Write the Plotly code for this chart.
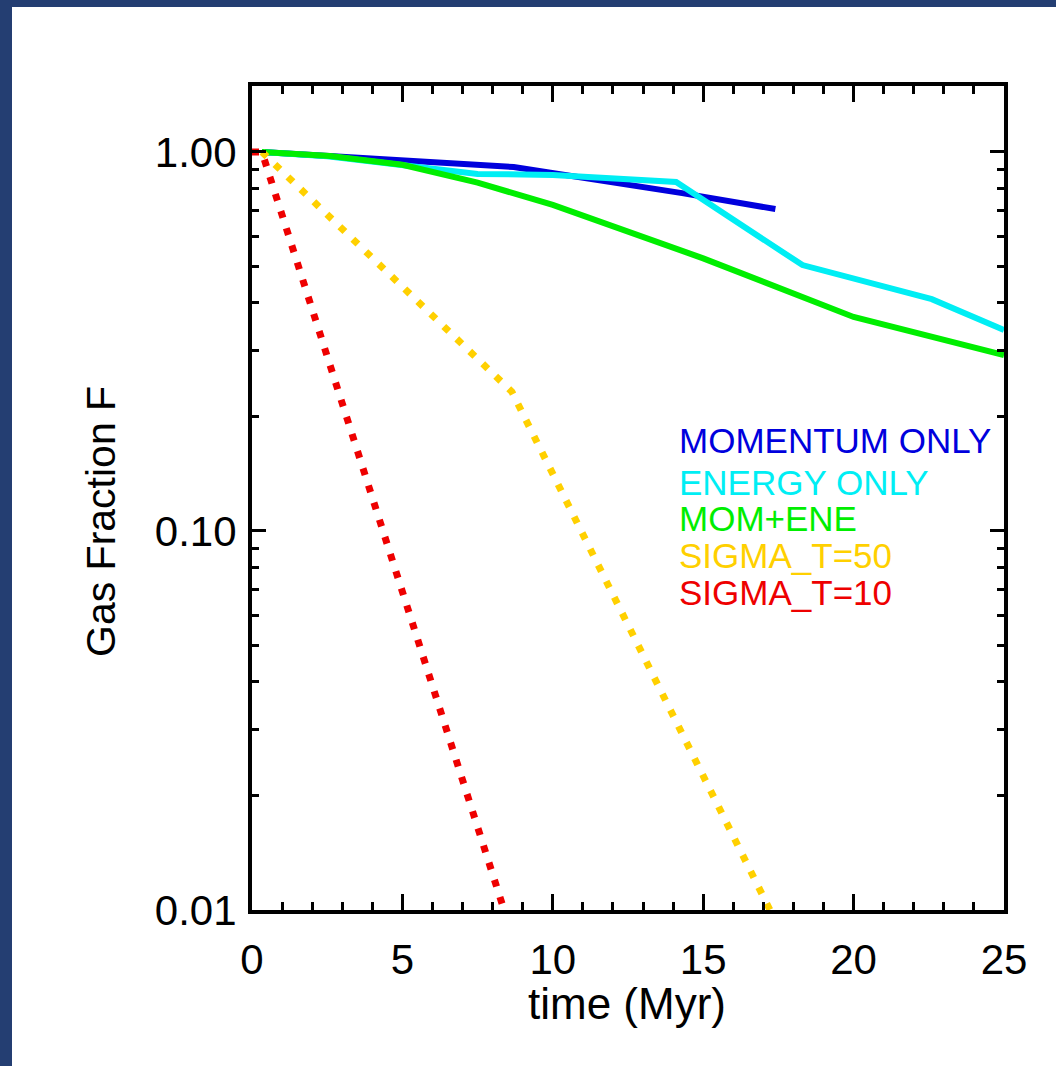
import plotly.graph_objects as go

# ---- data ----
t_mom = [0.33, 4.0, 8.7, 14.3, 17.4]
f_mom = [1.0, 0.964, 0.913, 0.779, 0.707]

t_ene = [0.33, 2.5, 7.5, 10.0, 14.1, 18.3, 22.6, 25.0]
f_ene = [1.0, 0.975, 0.875, 0.870, 0.833, 0.503, 0.409, 0.339]

t_both = [0.33, 2.6, 5.0, 7.5, 10.0, 15.0, 20.0, 25.0]
f_both = [1.0, 0.976, 0.925, 0.83, 0.725, 0.524, 0.367, 0.291]

t_s50 = [0.33, 8.64, 17.22]
f_s50 = [1.0, 0.233, 0.01]

t_s10 = [0.0, 0.33, 8.38]
f_s10 = [1.0, 1.0, 0.01]

labels = ["MOMENTUM ONLY", "ENERGY ONLY", "MOM+ENE", "SIGMA_T=50", "SIGMA_T=10"]
colors = ["#0000dd", "#00eef4", "#00ee00", "#ffd000", "#ee0000"]

x_ticks = [0, 5, 10, 15, 20, 25]
y_ticks = [0.01, 0.1, 1.0]
y_ticktext = ["0.01", "0.10", "1.00"]
y_minor = [m * d for d in (0.01, 0.1) for m in range(2, 10)]

FONT = "Liberation Sans, Arial, sans-serif"

fig = go.Figure()
series = [(t_mom, f_mom, "solid", 6), (t_ene, f_ene, "solid", 6), (t_both, f_both, "solid", 6),
          (t_s50, f_s50, "7px,11px", 7), (t_s10, f_s10, "7px,11px", 7)]
for (t, f, dash, w), name, col in zip(series, labels, colors):
    fig.add_trace(go.Scatter(x=t, y=f, mode="lines", name=name,
                             line=dict(color=col, width=w, dash=dash),
                             showlegend=False))

# text legend
leg_y = [440, 482, 518, 555, 592]
for name, col, py in zip(labels, colors, leg_y):
    fig.add_annotation(text=name, xref="paper", yref="paper",
                       x=(677 - 252) / 752, y=(910 - py) / 824,
                       xanchor="left", yanchor="middle", showarrow=False,
                       font=dict(family=FONT, size=35, color=col))

# axis titles
fig.add_annotation(text="time (Myr)", xref="paper", yref="paper",
                   x=(627 - 252) / 752, y=(910 - 1003) / 824,
                   xanchor="center", yanchor="middle", showarrow=False,
                   font=dict(family=FONT, size=44, color="black"))
fig.add_annotation(text="Gas Fraction F", xref="paper", yref="paper",
                   x=(101 - 252) / 752, y=(910 - 522) / 824, textangle=-90,
                   xanchor="center", yanchor="middle", showarrow=False,
                   font=dict(family=FONT, size=41, color="black"))

# white page over dark-blue frame
fig.add_shape(type="rect", xref="paper", yref="paper",
              x0=(12 - 252) / 752, x1=(1060 - 252) / 752,
              y0=(910 - 1070) / 824, y1=(910 - 7) / 824,
              fillcolor="white", line=dict(width=0), layer="below")

fig.update_xaxes(range=[0, 25], tickvals=x_ticks, ticks="inside", ticklen=16, tickwidth=3,
                 tickcolor="black", showline=True, linecolor="black", linewidth=4,
                 mirror="allticks", showgrid=False, zeroline=False,
                 tickfont=dict(family=FONT, size=42, color="black"),
                 ticklabelstandoff=10,
                 minor=dict(dtick=1, ticks="inside", ticklen=8, tickwidth=3,
                            tickcolor="black", showgrid=False))
fig.update_yaxes(type="log", range=[-2, 0.1741], tickvals=y_ticks, ticktext=y_ticktext,
                 ticks="inside", ticklen=14, tickwidth=3, tickcolor="black",
                 showline=True, linecolor="black", linewidth=4, mirror="allticks",
                 showgrid=False, zeroline=False,
                 tickfont=dict(family=FONT, size=42, color="black"),
                 ticklabelstandoff=3,
                 minor=dict(tickvals=y_minor, ticks="inside", ticklen=7, tickwidth=3,
                            tickcolor="black", showgrid=False))

fig.update_layout(width=1056, height=1066,
                  margin=dict(l=252, r=52, t=86, b=156),
                  paper_bgcolor="#243e72", plot_bgcolor="white",
                  showlegend=False)

fig.write_html("out.html")
